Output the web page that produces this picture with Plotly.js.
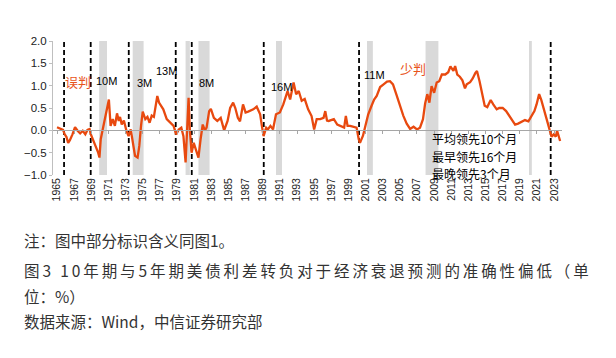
<!DOCTYPE html>
<html>
<head>
<meta charset="utf-8">
<script src="https://cdn.plot.ly/plotly-3.0.1.min.js"></script>
<style>
html,body{margin:0;padding:0;background:#fff;}
#chart{width:616px;height:358px;}
</style>
</head>
<body>
<div id="chart"></div>
<script>
// 10Y-5Y US Treasury spread (%)
const years = [
 1965.0,1965.3,1965.7,1965.9,1966.1,1966.3,1966.5,1966.8,1967.1,1967.4,1967.7,1968.0,1968.3,1968.55,1968.8,1968.95,
 1969.2,1969.4,1969.6,1969.8,1969.95,1970.1,1970.3,1970.6,1970.9,1971.05,1971.25,1971.5,1971.75,1972.0,1972.2,1972.35,
 1972.55,1972.8,1973.1,1973.35,1973.6,1973.8,1974.1,1974.4,1974.6,1974.8,1975.0,1975.3,1975.55,1975.8,1976.05,1976.3,
 1976.5,1976.7,1976.9,1977.1,1977.4,1977.8,1978.2,1978.6,1978.9,1979.2,1979.5,1979.75,1980.0,1980.15,1980.35,1980.5,
 1980.7,1980.95,1981.2,1981.5,1981.75,1982.0,1982.25,1982.45,1982.75,1982.95,1983.3,1983.7,1984.1,1984.5,1984.9,1985.2,
 1985.55,1985.8,1986.1,1986.35,1986.7,1987.0,1987.3,1987.9,1988.3,1988.7,1988.9,1989.1,1989.4,1989.6,1989.9,1990.2,
 1990.55,1991.0,1991.4,1991.9,1992.2,1992.6,1992.9,1993.2,1993.55,1993.9,1994.3,1994.7,1995.0,1995.3,1995.7,1996.1,
 1996.3,1996.5,1996.7,1997.3,1997.7,1998.1,1998.5,1998.7,1998.9,1999.2,1999.6,1999.95,2000.2,2000.35,2000.7,2001.05,
 2001.3,2001.7,2002.0,2002.3,2002.7,2003.1,2003.5,2003.85,2004.2,2004.6,2005.0,2005.4,2005.8,2006.2,2006.6,2007.0,
 2007.35,2007.7,2007.95,2008.2,2008.45,2008.7,2009.0,2009.3,2009.6,2009.9,2010.3,2010.65,2010.9,2011.25,2011.45,2011.7,
 2012.0,2012.3,2012.6,2012.8,2013.2,2013.5,2013.8,2014.0,2014.3,2014.6,2014.9,2015.2,2015.6,2015.9,2016.3,2016.6,
 2017.0,2017.4,2017.65,2018.0,2018.45,2018.8,2019.2,2019.6,2020.0,2020.3,2020.7,2020.95,2021.25,2021.5,2021.8,2022.1,
 2022.4,2022.7,2022.95,2023.2,2023.35,2023.7
];
const spread = [
 0.07,0.05,0.01,-0.09,-0.15,-0.28,-0.22,-0.09,0.07,-0.01,-0.07,-0.01,-0.09,0.01,0.03,-0.09,
 -0.2,-0.31,-0.39,-0.5,-0.61,-0.2,-0.01,0.28,0.54,0.69,0.1,0.25,0.1,0.38,0.21,0.3,
 0.13,0.22,-0.01,-0.13,0.02,-0.2,-0.57,-0.61,-0.35,0.1,0.42,0.25,0.3,0.17,0.33,0.3,
 0.55,0.77,0.62,0.55,0.47,0.25,0.17,0.1,-0.09,0.02,0.06,-0.13,-0.72,-0.1,0.73,0.0,
 -0.5,-0.28,-0.43,-0.61,-0.2,0.13,0.0,0.06,0.43,0.48,0.28,0.21,0.28,0.0,0.21,0.5,
 0.62,0.5,0.28,0.2,0.58,0.4,0.42,0.47,0.53,0.36,0.1,-0.13,0.06,0.02,0.1,0.02,
 0.36,0.4,0.58,0.88,0.69,1.07,0.81,0.88,0.66,0.7,0.47,0.32,0.02,0.25,0.25,0.28,
 0.43,0.22,0.21,0.25,0.13,0.1,0.06,0.32,0.1,0.1,0.08,0.06,-0.2,-0.28,-0.12,0.2,
 0.35,0.55,0.69,0.77,0.97,1.03,1.09,1.1,1.03,0.8,0.55,0.33,0.15,0.03,0.08,0.02,
 0.06,0.25,0.6,0.81,0.62,0.99,0.84,1.07,1.1,1.25,1.25,1.3,1.43,1.33,1.44,1.25,
 1.2,1.12,0.94,1.03,1.08,1.16,1.28,1.33,1.1,0.85,0.55,0.52,0.68,0.58,0.47,0.5,
 0.5,0.43,0.36,0.25,0.13,0.15,0.19,0.23,0.2,0.3,0.43,0.58,0.81,0.68,0.47,0.25,
 0.03,-0.14,-0.09,-0.14,-0.01,-0.24
];
// NBER recessions (shaded)
const recStart = [1969.92,1973.83,1980.0,1981.5,1990.55,2001.17,2008.0,2020.07];
const recEnd   = [1970.83,1975.1,1980.5,1982.8,1991.25,2001.85,2009.5,2020.4];
// inversion signal dates (dashed)
const signalDates = [1965.82,1968.93,1973.37,1978.85,1980.72,1989.12,2000.24,2022.6];
// lead labels
const leadText = ['10M','3M','13M','8M','16M','11M'];
const leadX = [1970.78,1975.2,1977.78,1982.45,1991.2,2002.05];
const leadY = [1.10,1.05,1.32,1.05,0.98,1.25];
const judgeText = ['误判','少判'];
const judgeX = [1967.45,2006.55];
const judgeY = [1.10,1.39];
const boxLines = ['平均领先10个月','最早领先16个月','最晚领先3个月'];
const boxY = [-0.18,-0.58,-0.97];
const boxX = 2008.64;
const tickYears = [];
for (let y = 1965; y <= 2023; y += 2) tickYears.push(y);
const footer = [
  '注：图中部分标识含义同图1。',
  '<span style="letter-spacing:2.9px">图3 10年期与5年期美债利差转负对于经济衰退预测的准确性偏低（单</span>',
  '位：%）',
  '数据来源：Wind，中信证券研究部'
];
const footerY = [240,270,296,321];

const LINE = '#E8490F';
const TXT = '#E8531B';
const CJK = '"Noto Sans CJK SC", sans-serif';

const shapes = [];
recStart.forEach((s,i)=>{
  shapes.push({type:'rect', xref:'x', yref:'paper', x0:s, x1:recEnd[i], y0:0, y1:1,
    fillcolor:'#D9D9D9', line:{width:0}, layer:'below'});
});
signalDates.forEach(d=>{
  shapes.push({type:'line', xref:'x', yref:'paper', x0:d, x1:d, y0:0, y1:1,
    line:{color:'#000', width:1.8, dash:'5px,3px'}, layer:'below'});
});

const annotations = [];
leadText.forEach((t,i)=>{
  annotations.push({text:t, x:leadX[i], y:leadY[i], xref:'x', yref:'y', showarrow:false,
    font:{family:'"Liberation Sans Narrow", "Liberation Sans", Arial, sans-serif', size:11, color:'#000'}});
});
judgeText.forEach((t,i)=>{
  annotations.push({text:t, x:judgeX[i], y:judgeY[i], xref:'x', yref:'y', showarrow:false,
    font:{family:CJK, size:13, color:TXT}});
});
boxLines.forEach((t,i)=>{
  annotations.push({text:t, x:boxX, y:boxY[i], xref:'x', yref:'y', xanchor:'left', showarrow:false,
    borderpad:0, font:{family:CJK, size:12, color:'#000'}});
});
// footer text placed relative to the plot area (53..562 x, 41..175 y)
footer.forEach((t,i)=>{
  annotations.push({text:t, xref:'paper', yref:'paper', x:(22-53)/509, y:(175-footerY[i])/134,
    xanchor:'left', yanchor:'middle', showarrow:false, align:'left',
    font:{family:CJK, size:15.5, color:'#333'}});
});

const traces = [
  {x:years, y:spread, type:'scatter', mode:'lines', line:{color:LINE, width:2.3},
   hoverinfo:'skip', showlegend:false},
  {x:[years[0]], y:[spread[0]], xaxis:'x2', type:'scatter', mode:'markers',
   marker:{opacity:0}, hoverinfo:'skip', showlegend:false}
];

const layout = {
  width:616, height:358,
  margin:{l:53, r:54, t:41, b:183},
  paper_bgcolor:'#fff', plot_bgcolor:'#fff',
  showlegend:false,
  xaxis:{range:[1964.53,2023.92], tickmode:'array', tickvals:tickYears, ticktext:tickYears.map(String),
    tickangle:-90, showgrid:false, zeroline:false, showline:false, ticks:'',
    tickfont:{family:'"Liberation Sans", Arial, sans-serif', size:10.5, color:'#222'}},
  xaxis2:{overlaying:'x', matches:'x', anchor:'free', position:1/3, side:'bottom',
    range:[1964.53,2023.92], tickmode:'array', tickvals:tickYears, showticklabels:false,
    ticks:'outside', ticklen:3, tickcolor:'#A6A6A6', showline:true, linecolor:'#A6A6A6', linewidth:1,
    showgrid:false, zeroline:false},
  yaxis:{range:[-1,2], dtick:0.5, tick0:-1, tickformat:'.1f', showgrid:false, zeroline:false,
    showline:true, linecolor:'#BFBFBF', linewidth:1, ticks:'outside', ticklen:3, tickcolor:'#BFBFBF',
    tickfont:{family:'"Liberation Sans", Arial, sans-serif', size:11.5, color:'#222'}},
  shapes:shapes,
  annotations:annotations
};

Plotly.newPlot('chart', traces, layout, {staticPlot:true, displayModeBar:false});
</script>
</body>
</html>
